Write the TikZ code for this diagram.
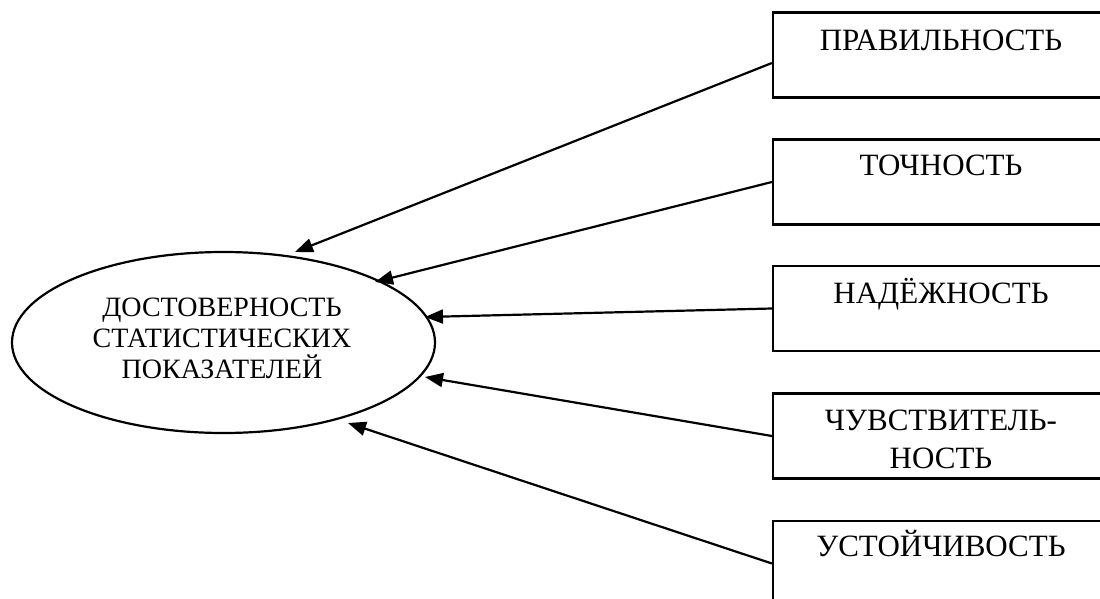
\documentclass[tikz,border=0pt]{standalone}
\usepackage{fontspec}
\setmainfont{Liberation Serif}
\usetikzlibrary{shapes.geometric,arrows.meta}
\tikzset{
  factor/.style={draw, line width=2.2pt, rectangle, minimum width=336pt, minimum height=85pt, inner sep=0pt},
  ftext/.style={anchor=base, inner sep=0pt, font=\fontsize{31}{37}\selectfont},
  arr/.style={line width=2.2pt, -{Triangle[length=18pt,width=14pt]}},
}
\begin{document}
\begin{tikzpicture}[x=1pt,y=-1pt]
\useasboundingbox (0,0) rectangle (1100,599);
\clip (0,0) rectangle (1100,599);
\node[draw, line width=2.2pt, ellipse, minimum width=423pt, minimum height=181pt, inner sep=0pt] (e) at (223.5,342.5) {};
\node[align=center, font=\fontsize{28}{31}\selectfont, inner sep=0pt] (et) at (222,338) {ДОСТОВЕРНОСТЬ\\СТАТИСТИЧЕСКИХ\\ПОКАЗАТЕЛЕЙ};
\node[factor] (b1) at (941,55) {};
\node[factor] (b2) at (941,182) {};
\node[factor] (b3) at (941,308.5) {};
\node[factor] (b4) at (941,436) {};
\node[factor] (b5) at (941,563.5) {};
\node[ftext] (l1) at ([yshift=-39pt]b1.north) {ПРАВИЛЬНОСТЬ};
\node[ftext] (l2) at ([yshift=-37pt]b2.north) {ТОЧНОСТЬ};
\node[ftext] (l3) at ([yshift=-39pt]b3.north) {НАДЁЖНОСТЬ};
\node[ftext] (l4a) at ([yshift=-38pt]b4.north) {ЧУВСТВИТЕЛЬ-};
\node[ftext] (l4b) at ([yshift=-76pt]b4.north) {НОСТЬ};
\node[ftext] (l5) at ([yshift=-37pt]b5.north) {УСТОЙЧИВОСТЬ};
\coordinate (t1) at (295,252);
\coordinate (t2) at (375,282);
\coordinate (t3) at (425,317);
\coordinate (t4) at (425,377);
\coordinate (t5) at (348,423);
\draw[arr] ([yshift=-8pt]b1.west) -- (t1);
\draw[arr] (b2.west) -- (t2);
\draw[arr] (b3.west) -- (t3);
\draw[arr] (b4.west) -- (t4);
\draw[arr] (b5.west) -- (t5);
\end{tikzpicture}
\end{document}
